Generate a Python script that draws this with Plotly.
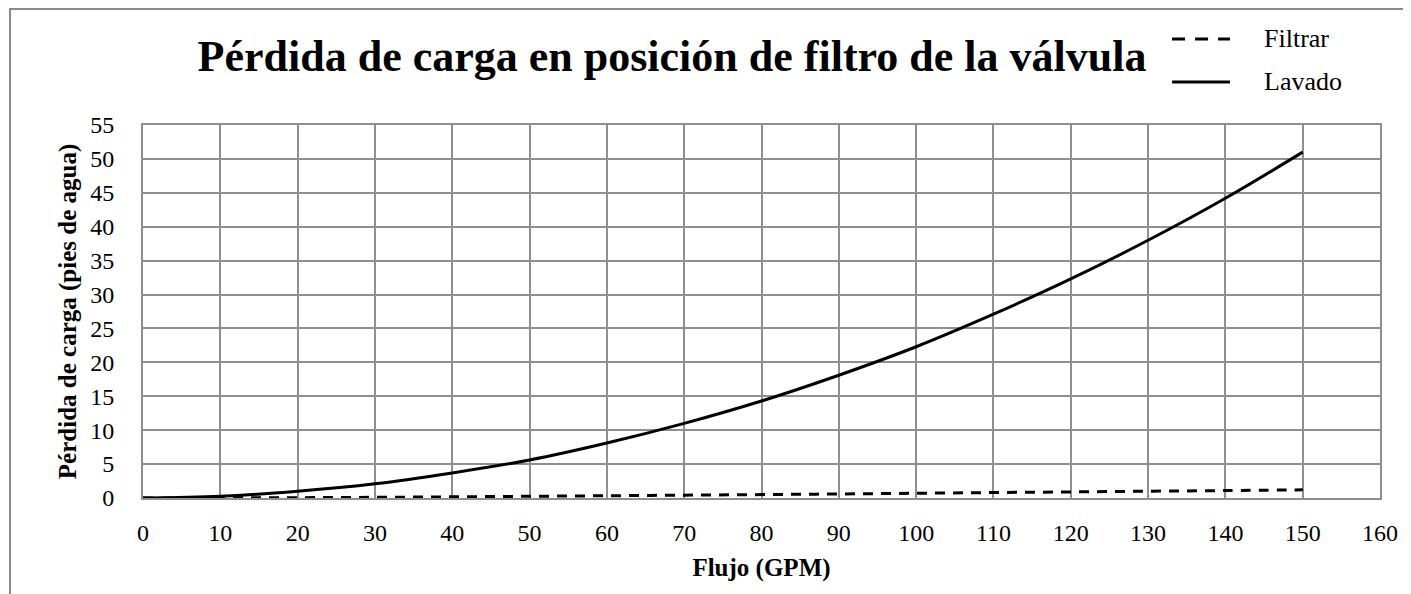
import plotly.graph_objects as go

flow_gpm = [0, 10, 20, 30, 40, 50, 60, 70, 80, 90, 100, 110, 120, 130, 140, 150]
filtrar = [0.0, 0.02, 0.05, 0.10, 0.17, 0.25, 0.33, 0.42, 0.50, 0.60, 0.70, 0.80, 0.90, 1.00, 1.10, 1.20]
lavado = [0.0, 0.25, 1.0, 2.1, 3.7, 5.6, 8.1, 11.0, 14.3, 18.1, 22.3, 27.1, 32.3, 38.0, 44.2, 51.0]
series_names = ["Filtrar", "Lavado"]

title_text = "Pérdida de carga en posición de filtro de la válvula"
x_title = "Flujo (GPM)"
y_title = "Pérdida de carga (pies de agua)"

FONT = "Liberation Serif, Times New Roman, serif"
GRID = "#8f8f8f"

# page has an 8px body margin; figure sized so it ends at the window edge
W, H = 1403, 586
L, R, T, B = 135, 31, 117, 96

fig = go.Figure()
fig.add_trace(go.Scatter(x=flow_gpm, y=filtrar, mode="lines", name=series_names[0],
                         line=dict(color="black", width=3, dash="10px,8px", shape="spline")))
fig.add_trace(go.Scatter(x=flow_gpm, y=lavado, mode="lines", name=series_names[1],
                         line=dict(color="black", width=3, shape="spline")))

# custom legend (key lines + labels) placed in paper coordinates
leg_x0, leg_x1, leg_tx = 0.8319, 0.8787, 0.9046
leg_ys = [1.2306, 1.1153]
leg_dash = ["13px,10px", "solid"]
shapes = [dict(type="rect", xref="paper", yref="paper",
               x0=-133 / 1237, x1=1412 / 1237, y0=-0.3, y1=489 / 373,
               line=dict(color="#8a8a8a", width=2), fillcolor="rgba(0,0,0,0)", layer="below")]
annotations = []
for name, yy, dsh in zip(series_names, leg_ys, leg_dash):
    shapes.append(dict(type="line", xref="paper", yref="paper", x0=leg_x0, x1=leg_x1, y0=yy, y1=yy,
                       line=dict(color="black", width=3, dash=dsh)))
    annotations.append(dict(text=name, xref="paper", yref="paper", x=leg_tx, y=yy,
                            xanchor="left", yanchor="middle", showarrow=False,
                            font=dict(size=26, family=FONT, color="black")))

fig.update_layout(
    width=W, height=H,
    margin=dict(l=L, r=R, t=T, b=B),
    paper_bgcolor="white", plot_bgcolor="white",
    font=dict(family=FONT, size=24, color="black"),
    title=dict(text="<b>" + title_text + "</b>", x=664 / W, xanchor="center",
               y=1 - 48 / H, yanchor="middle", font=dict(size=44, family=FONT)),
    showlegend=False,
    xaxis=dict(range=[0, 160], dtick=10, tick0=0, showgrid=True, gridcolor=GRID, gridwidth=2,
               showline=True, linecolor=GRID, linewidth=2, mirror=True, zeroline=False,
               ticks="", ticklabelstandoff=12, tickfont=dict(size=24),
               title=dict(text="<b>" + x_title + "</b>", font=dict(size=25, family=FONT), standoff=14)),
    yaxis=dict(range=[0, 55], dtick=5, tick0=0, showgrid=True, gridcolor=GRID, gridwidth=2,
               showline=True, linecolor=GRID, linewidth=2, mirror=True, zeroline=False,
               ticks="", ticklabelstandoff=22, tickfont=dict(size=24),
               title=dict(text="<b>" + y_title + "</b>", font=dict(size=25, family=FONT), standoff=6)),
    shapes=shapes,
    annotations=annotations,
)

fig.write_html("out.html")
